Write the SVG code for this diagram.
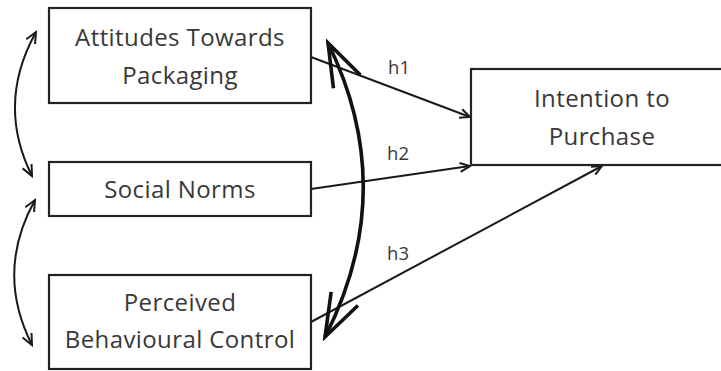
<svg xmlns="http://www.w3.org/2000/svg" width="721" height="371" viewBox="0 0 721 371">
  <style>
    .box { fill: #ffffff; stroke: #222222; stroke-width: 2.2; }
    .label { font-family: "Open Sans", "Liberation Sans", sans-serif; font-size: 24px; letter-spacing: 0.4px; fill: #383838; text-anchor: middle; }
    .hyp { font-family: "Open Sans", "Liberation Sans", sans-serif; font-size: 18.5px; fill: #383838; text-anchor: middle; }
    .path { fill: none; stroke: #1a1a1a; stroke-width: 2; }
    .corr { fill: none; stroke: #1a1a1a; stroke-width: 2; }
    .bigcorr { fill: none; stroke: #111111; stroke-width: 3.6; }
  </style>
  <defs>
    <marker id="arrow" markerUnits="userSpaceOnUse" viewBox="-12 -6 14 12" markerWidth="14" markerHeight="12" refX="0" refY="0" orient="auto">
      <path d="M-10,-4.5 L0,0 L-10,4.5" fill="none" stroke="#1a1a1a" stroke-width="2"/>
    </marker>
    <marker id="smallhead" markerUnits="userSpaceOnUse" viewBox="-14 -8 16 16" markerWidth="16" markerHeight="16" refX="0" refY="0" orient="auto-start-reverse">
      <path d="M-11,-5 L0,0 L-11,5" fill="none" stroke="#1a1a1a" stroke-width="2"/>
    </marker>
    <marker id="bighead" markerUnits="userSpaceOnUse" viewBox="-48 -20 52 40" markerWidth="52" markerHeight="40" refX="0" refY="0" orient="auto-start-reverse">
      <path d="M-43,-15 L0,0 L-43,15" fill="none" stroke="#111111" stroke-width="3.6"/>
    </marker>
  </defs>

  <g id="connectors">
    <!-- hypothesised paths into intention -->
    <line class="path" x1="311" y1="57" x2="470" y2="117" marker-end="url(#arrow)"/>
    <line class="path" x1="311" y1="189" x2="470" y2="166" marker-end="url(#arrow)"/>
    <line class="path" x1="311" y1="322" x2="602" y2="166" marker-end="url(#arrow)"/>
    <!-- correlations between predictors -->
    <path class="corr" d="M36,32 Q-4,104 32,176" marker-start="url(#smallhead)" marker-end="url(#smallhead)"/>
    <path class="corr" d="M35,200 Q-5,272 32,345" marker-start="url(#smallhead)" marker-end="url(#smallhead)"/>
    <path class="bigcorr" d="M328,43 Q400,190 325,337" marker-start="url(#bighead)" marker-end="url(#bighead)"/>
    <text class="hyp" x="399" y="74">h1</text>
    <text class="hyp" x="398" y="160">h2</text>
    <text class="hyp" x="398" y="260">h3</text>
  </g>

  <g id="attitudes">
    <rect class="box" x="49" y="8" width="262" height="95"/>
    <text class="label" x="180" y="46">Attitudes Towards</text>
    <text class="label" x="180" y="84">Packaging</text>
  </g>
  <g id="social-norms">
    <rect class="box" x="49" y="162" width="262" height="54"/>
    <text class="label" x="180" y="198">Social Norms</text>
  </g>
  <g id="perceived-control">
    <rect class="box" x="49" y="275" width="262" height="94"/>
    <text class="label" x="180" y="311">Perceived</text>
    <text class="label" x="180" y="348">Behavioural Control</text>
  </g>
  <g id="intention">
    <rect class="box" x="471" y="69" width="252" height="96"/>
    <text class="label" x="602" y="107">Intention to</text>
    <text class="label" x="602" y="145">Purchase</text>
  </g>
</svg>
